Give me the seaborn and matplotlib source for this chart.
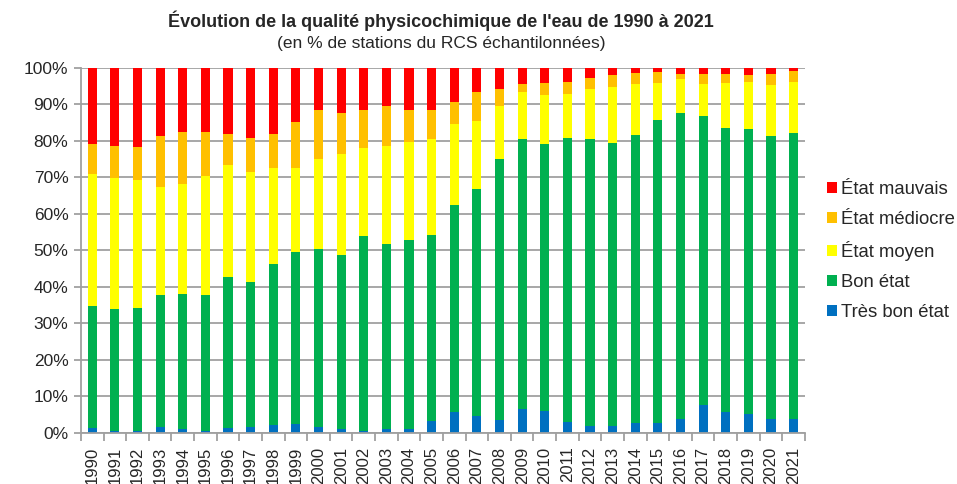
import numpy as np
import pandas as pd
import seaborn as sns
import matplotlib.pyplot as plt
from matplotlib.patches import Patch
from matplotlib.ticker import FuncFormatter, FixedLocator

years = [str(y) for y in range(1990, 2022)]
tres_bon = [1.3, 0.5, 0.4, 1.6, 1.0, 0.4, 1.4, 1.6, 2.0, 2.5, 1.6, 1.0, 0.6, 1.1, 1.1, 3.2,
            5.7, 4.7, 3.6, 6.6, 5.9, 3.0, 1.9, 1.9, 2.7, 2.7, 3.8, 7.6, 5.8, 5.0, 3.8, 3.8]
bon = [33.5, 33.5, 33.8, 36.1, 37.0, 37.3, 41.3, 39.6, 44.2, 46.9, 48.7, 47.7, 53.4, 50.7, 51.7, 51.0,
       56.6, 62.1, 71.4, 73.9, 73.2, 77.7, 78.6, 77.5, 78.9, 83.0, 83.7, 79.2, 77.6, 78.3, 77.5, 78.2]
moyen = [36.0, 35.7, 35.0, 29.7, 30.2, 32.6, 30.6, 30.2, 26.4, 23.1, 24.7, 27.8, 24.0, 26.7, 26.9, 26.3,
         22.4, 18.5, 14.4, 12.8, 13.4, 12.1, 13.6, 15.4, 13.9, 10.2, 9.4, 8.7, 12.5, 12.9, 13.9, 14.2]
mediocre = [8.2, 8.9, 9.2, 13.8, 14.1, 12.2, 8.6, 9.3, 9.2, 12.6, 13.3, 11.1, 10.5, 11.1, 8.6, 8.0,
            5.8, 8.0, 4.8, 2.3, 3.3, 3.3, 3.1, 3.3, 3.0, 2.9, 1.3, 2.9, 2.4, 1.9, 3.2, 2.9]
mauvais = [21.0, 21.4, 21.6, 18.8, 17.7, 17.5, 18.1, 19.3, 18.2, 14.9, 11.7, 12.4, 11.5, 10.4, 11.7, 11.5,
           9.5, 6.7, 5.8, 4.4, 4.2, 3.9, 2.8, 1.9, 1.5, 1.2, 1.8, 1.6, 1.7, 1.9, 1.6, 0.9]

classes = ["Très bon état", "Bon état", "État moyen", "État médiocre", "État mauvais"]
colors = ["#0070C0", "#00B050", "#FFFF00", "#FFC000", "#FF0000"]

df = pd.DataFrame({"Année": years, classes[0]: tres_bon, classes[1]: bon,
                   classes[2]: moyen, classes[3]: mediocre, classes[4]: mauvais})
# normalise each year to 100 %
vals = df[classes]
df[classes] = vals.div(vals.sum(axis=1), axis=0) * 100
cum = df[classes].cumsum(axis=1)

sns.set_style("white")
plt.rcParams["font.family"] = ["Liberation Sans", "DejaVu Sans"]

fig = plt.figure(figsize=(9.57, 4.84), dpi=100)
ax = fig.add_axes([0.0846, 0.106, 0.7565, 0.754])

# stacked bars: draw cumulative totals from the top class down
for name, col in zip(classes[::-1], colors[::-1]):
    sns.barplot(x=df["Année"], y=cum[name], color=col, width=0.4,
                saturation=1, linewidth=0, ax=ax, zorder=2)

ax.set_xlim(-0.5, len(years) - 0.5)
ax.set_ylim(0, 100)
ax.set_yticks(np.arange(0, 101, 10))
ax.yaxis.set_major_formatter(FuncFormatter(lambda v, p: f"{v:.0f}%"))
ax.yaxis.grid(True, color="#A0A0A0", linewidth=1.3)
ax.set_axisbelow(True)
ax.set_xlabel("")
ax.set_ylabel("")

ax.tick_params(axis="x", which="major", length=0, labelsize=12, rotation=90, pad=10)
ax.xaxis.set_minor_locator(FixedLocator(np.arange(-0.5, len(years), 1)))
ax.tick_params(axis="x", which="minor", length=6, color="#A0A0A0", width=1.3, bottom=True)
ax.tick_params(axis="y", length=5, color="#A0A0A0", width=1.3, labelsize=12.5, left=True, pad=4)

for s in ["top", "right"]:
    ax.spines[s].set_visible(False)
for s in ["left", "bottom"]:
    ax.spines[s].set_color("#A0A0A0")
    ax.spines[s].set_linewidth(1.3)

handles = [Patch(facecolor=c, edgecolor="none") for c in colors[::-1]]
fig.legend(handles, classes[::-1], loc="center left", bbox_to_anchor=(0.864, 0.481),
           frameon=False, fontsize=13.3, handlelength=0.55, handleheight=0.55,
           handletextpad=0.22, labelspacing=0.71, borderaxespad=0, borderpad=0)

fig.text(0.461, 0.957, "Évolution de la qualité physicochimique de l'eau de 1990 à 2021",
         ha="center", va="center", fontsize=13, fontweight="bold")
fig.text(0.461, 0.910, "(en % de stations du RCS échantilonnées)",
         ha="center", va="center", fontsize=12.5)

fig.savefig("out.png", dpi=100)
